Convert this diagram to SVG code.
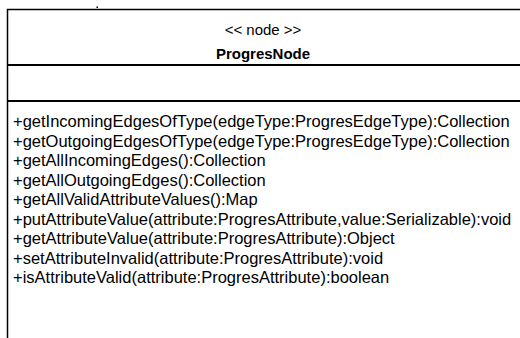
<svg xmlns="http://www.w3.org/2000/svg" width="520" height="338" viewBox="0 0 520 338">
  <style>
    .t { font-family: "Liberation Sans", Arial, sans-serif; font-size: 16.5px; fill: #000; }
    .h { font-family: "Liberation Sans", Arial, sans-serif; font-size: 15px; fill: #000; text-anchor: middle; }
    .b { font-weight: bold; font-size: 15px; }
    .frame { fill: #fff; stroke: #000; stroke-width: 1.5; }
    .div { stroke: #000; stroke-width: 2; }
  </style>
  <rect width="520" height="338" fill="#fff"/>
  <g id="ProgresNode">
    <rect class="frame" x="7.5" y="9.5" width="530" height="340"/>
    <rect x="96.5" y="6.5" width="1.5" height="1.5" fill="#000"/>
    <line class="div" x1="8" y1="65" x2="520" y2="65"/>
    <line class="div" x1="8" y1="101" x2="520" y2="101"/>
    <text class="h" x="263" y="34.5">&lt;&lt; node &gt;&gt;</text>
    <text class="h b" x="263" y="58.5">ProgresNode</text>
    <text class="t" x="13" y="127">+getIncomingEdgesOfType(edgeType:ProgresEdgeType):Collection</text>
    <text class="t" x="13" y="146.5">+getOutgoingEdgesOfType(edgeType:ProgresEdgeType):Collection</text>
    <text class="t" x="13" y="166">+getAllIncomingEdges():Collection</text>
    <text class="t" x="13" y="185.5">+getAllOutgoingEdges():Collection</text>
    <text class="t" x="13" y="205">+getAllValidAttributeValues():Map</text>
    <text class="t" x="13" y="224.5">+putAttributeValue(attribute:ProgresAttribute,value:Serializable):void</text>
    <text class="t" x="13" y="244">+getAttributeValue(attribute:ProgresAttribute):Object</text>
    <text class="t" x="13" y="263.5">+setAttributeInvalid(attribute:ProgresAttribute):void</text>
    <text class="t" x="13" y="283">+isAttributeValid(attribute:ProgresAttribute):boolean</text>
  </g>
</svg>
